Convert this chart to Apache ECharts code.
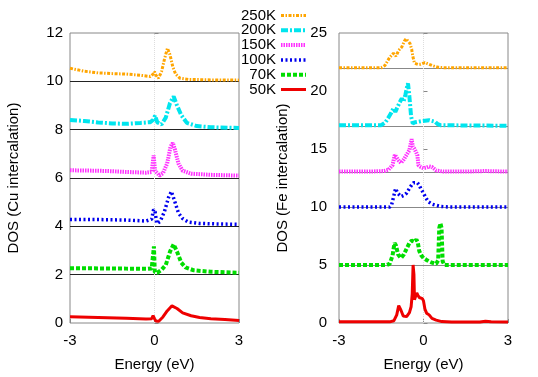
<!DOCTYPE html>
<html>
<head>
<meta charset="utf-8">
<script src="https://cdn.jsdelivr.net/npm/echarts@6/dist/echarts.min.js"></script>
<style>
  body { margin: 0; background: #fff; }
  #chart { width: 538px; height: 377px; }
</style>
</head>
<body>
<div id="chart"></div>
<script>
// legend labels, top to bottom
const temps = ["250K", "200K", "150K", "100K", "70K", "50K"];

// Cu intercalation: [energy eV, DOS + offset]
const cu50 = [[-3,0.26],[-2,0.23],[-1,0.2],[-0.3,0.17],[-0.1,0.18],[-0.05,0.3],[0,0.18],[0.05,0.08],[0.15,0.07],[0.3,0.25],[0.45,0.5],[0.62,0.71],[0.8,0.6],[1,0.42],[1.3,0.3],[1.6,0.23],[2,0.18],[2.5,0.14],[3,0.1]];
const cu70 = [[-3,2.27],[-2,2.26],[-1,2.25],[-0.3,2.24],[-0.1,2.26],[-0.03,2.3],[-0.02,3.17],[0,3.17],[0.01,2.1],[0.1,2.08],[0.25,2.2],[0.4,2.4],[0.55,2.95],[0.68,3.26],[0.8,2.95],[0.95,2.5],[1.1,2.3],[1.4,2.18],[2,2.12],[3,2.08]];
const cu100 = [[-3,4.28],[-2,4.28],[-1,4.26],[-0.3,4.22],[-0.1,4.3],[-0.03,4.7],[0.02,4.6],[0.08,4.12],[0.2,4.2],[0.35,4.6],[0.5,5.2],[0.6,5.44],[0.7,5.1],[0.85,4.55],[1,4.32],[1.2,4.18],[1.6,4.12],[2.2,4.1],[3,4.08]];
const cu150 = [[-3,6.32],[-2,6.3],[-1.5,6.28],[-1,6.25],[-0.3,6.22],[-0.1,6.25],[-0.03,6.93],[0,6.93],[0.02,6.3],[0.18,6.1],[0.3,6.2],[0.45,6.6],[0.57,7.3],[0.65,7.45],[0.72,7.2],[0.85,6.6],[1,6.3],[1.3,6.18],[2,6.13],[3,6.1]];
const cu200 = [[-3,8.4],[-2.5,8.36],[-2,8.3],[-1.5,8.26],[-1,8.24],[-0.5,8.28],[-0.15,8.31],[-0.05,8.4],[0.02,8.58],[0.1,8.3],[0.25,8.22],[0.4,8.5],[0.55,9.1],[0.68,9.37],[0.8,9.0],[0.95,8.6],[1.15,8.28],[1.5,8.15],[2,8.1],[3,8.07]];
const cu250 = [[-3,10.54],[-2.5,10.42],[-2,10.35],[-1.5,10.32],[-1,10.3],[-0.5,10.25],[-0.15,10.2],[-0.05,10.3],[0,10.4],[0.05,10.25],[0.14,10.13],[0.25,10.4],[0.35,10.9],[0.46,11.37],[0.55,11.1],[0.65,10.6],[0.75,10.3],[0.9,10.13],[1.2,10.08],[2,10.06],[3,10.05]];
const cuBase = [10, 8, 6, 4, 2, 0];

// Fe intercalation
const fe50 = [[-3,0.1],[-2,0.1],[-1.2,0.1],[-1.05,0.2],[-0.95,0.7],[-0.88,1.5],[-0.85,1.65],[-0.8,1.1],[-0.72,0.6],[-0.6,0.55],[-0.5,0.9],[-0.44,1.4],[-0.4,2.5],[-0.37,5.0],[-0.34,4.2],[-0.32,2.0],[-0.28,2.3],[-0.24,2.6],[-0.2,2.4],[-0.15,2.2],[-0.1,2.3],[-0.04,2.1],[0,1.9],[0.05,1.2],[0.11,0.85],[0.2,0.7],[0.3,0.4],[0.45,0.25],[0.65,0.12],[1,0.08],[2,0.08],[2.2,0.15],[2.4,0.1],[3,0.08]];
const fe70 = [[-3,5.0],[-1.3,5.0],[-1.2,5.1],[-1.1,5.8],[-1.03,6.9],[-0.98,6.7],[-0.9,5.9],[-0.8,5.6],[-0.7,5.9],[-0.6,6.4],[-0.5,6.9],[-0.42,7.1],[-0.32,7.0],[-0.25,7.2],[-0.2,6.9],[-0.15,6.2],[-0.09,5.86],[0,5.6],[0.11,5.43],[0.2,5.3],[0.3,5.2],[0.45,5.1],[0.52,5.4],[0.56,8.2],[0.6,8.6],[0.64,8.2],[0.68,5.3],[0.75,5.0],[3,5.0]];
const fe100 = [[-3,10],[-1.2,10],[-1.13,10.2],[-1.05,11.0],[-0.99,11.6],[-0.92,11.2],[-0.8,10.9],[-0.7,11.0],[-0.6,11.2],[-0.5,11.6],[-0.42,11.9],[-0.35,12.1],[-0.3,12.27],[-0.22,12.1],[-0.15,11.9],[-0.1,11.6],[0,11.2],[0.08,10.8],[0.17,10.46],[0.3,10.25],[0.41,10.17],[0.6,10.05],[0.9,10.0],[3,10.0]];
const fe150 = [[-3,13.05],[-2,13.05],[-1.4,13.1],[-1.25,13.2],[-1.1,13.6],[-1.02,14.5],[-0.95,14.6],[-0.88,14.0],[-0.8,13.8],[-0.7,14.1],[-0.6,14.5],[-0.5,14.9],[-0.45,15.5],[-0.42,15.85],[-0.38,15.2],[-0.32,15.0],[-0.26,14.9],[-0.22,14.5],[-0.18,13.6],[-0.1,13.45],[0,13.35],[0.1,13.4],[0.2,13.5],[0.3,13.45],[0.45,13.15],[0.7,13.05],[1.5,13.05],[2.2,13.1],[3,13.05]];
const fe200 = [[-3,17.05],[-1.5,17.05],[-1.35,17.3],[-1.26,17.65],[-1.15,18.1],[-1.07,18.5],[-1.0,18.2],[-0.95,18.3],[-0.85,19.0],[-0.77,19.37],[-0.71,19.08],[-0.64,19.7],[-0.58,20.4],[-0.55,20.66],[-0.5,19.5],[-0.44,17.8],[-0.38,17.2],[-0.3,17.3],[-0.06,17.41],[0.2,17.48],[0.41,17.35],[0.5,17.15],[0.6,17.05],[3,17.0]];
const fe250 = [[-3,22.0],[-1.5,22.0],[-1.37,22.2],[-1.2,22.9],[-1.07,23.25],[-0.98,23.0],[-0.88,23.5],[-0.77,23.8],[-0.68,24.3],[-0.62,24.5],[-0.55,24.3],[-0.48,24.1],[-0.42,23.6],[-0.38,23.0],[-0.32,22.4],[-0.2,22.3],[-0.1,22.3],[0.05,22.45],[0.15,22.35],[0.3,22.2],[0.5,22.05],[0.8,22.0],[3,22.0]];
const feBase = [22, 17, 13, 10, 5, 0];

const cuData = [cu250, cu200, cu150, cu100, cu70, cu50];
const feData = [fe250, fe200, fe150, fe100, fe70, fe50];

// line styles per temperature, same order as temps
const styles = [
  { color: "#ffa500", type: [3, 1.5, 1.5, 1.5], width: 3 },
  { color: "#00e5ee", type: [7, 2, 2, 2], width: 4 },
  { color: "#ff33ff", type: [1.5, 1], width: 4 },
  { color: "#0000ee", type: [2, 2.5], width: 3.5 },
  { color: "#00dd00", type: [4, 2], width: 4 },
  { color: "#ee0000", type: "solid", width: 3 },
];

function makeSeries(data, base, gridIdx, baseColor) {
  return data.map((d, i) => {
    const mark = [];
    if (base[i] > 0) mark.push({ yAxis: base[i], lineStyle: { color: baseColor, type: "solid", width: 1 } });
    if (i === data.length - 1) mark.push({ xAxis: 0, lineStyle: { color: "#dddddd", type: "dotted", width: 1 } });
    return {
      name: temps[i],
      type: "line",
      xAxisIndex: gridIdx,
      yAxisIndex: gridIdx,
      data: d,
      symbol: "none",
      showSymbol: false,
      lineStyle: styles[i],
      itemStyle: { color: styles[i].color },
      z: 3,
      markLine: {
        silent: true,
        symbol: "none",
        label: { show: false },
        z: 1,
        data: mark,
      },
    };
  });
}

const tickStyle = { inside: true, length: 4, lineStyle: { color: "#888" } };
const fs = 15;

const chart = echarts.init(document.getElementById("chart"), null, { renderer: "canvas" });
chart.setOption({
  animation: false,
  textStyle: { fontFamily: "Liberation Sans, Arial, sans-serif" },
  legend: {
    data: temps,
    orient: "vertical",
    right: 230,
    top: 8,
    padding: 0,
    align: "right",
    itemWidth: 25,
    itemHeight: 10,
    itemGap: -0.2,
    selectedMode: false,
    itemStyle: { opacity: 0 },
    lineStyle: { width: "inherit" },
    textStyle: { fontSize: fs, color: "#000", lineHeight: 14 },
  },
  grid: [
    { left: 70, top: 33, width: 169, height: 291, show: true, borderColor: "#888", borderWidth: 1 },
    { left: 339, top: 33, width: 169, height: 290, show: true, borderColor: "#888", borderWidth: 1 },
  ],
  xAxis: [0, 1].map((g) => ({
    gridIndex: g,
    type: "value",
    min: -3,
    max: 3,
    interval: 3,
    axisLine: { show: false },
    axisTick: tickStyle,
    splitLine: { show: false },
    axisLabel: { fontSize: fs, color: "#000", margin: 10 },
    name: "Energy (eV)",
    nameLocation: "middle",
    nameGap: 34,
    nameTextStyle: { fontSize: fs, color: "#000" },
  })),
  yAxis: [
    {
      gridIndex: 0,
      type: "value",
      min: 0,
      max: 12,
      interval: 2,
      axisLine: { show: false },
      axisTick: tickStyle,
      splitLine: { show: false },
      axisLabel: { fontSize: fs, color: "#000", margin: 7 },
      name: "DOS (Cu intercalation)",
      nameLocation: "middle",
      nameGap: 49,
      nameTextStyle: { fontSize: fs, color: "#000" },
    },
    {
      gridIndex: 1,
      type: "value",
      min: 0,
      max: 25,
      interval: 5,
      axisLine: { show: false },
      axisTick: tickStyle,
      splitLine: { show: false },
      axisLabel: { fontSize: fs, color: "#000", margin: 12 },
      name: "DOS (Fe intercalation)",
      nameLocation: "middle",
      nameGap: 49,
      nameTextStyle: { fontSize: fs, color: "#000" },
    },
  ],
  series: [
    ...makeSeries(cuData, cuBase, 0, "#222"),
    ...makeSeries(feData, feBase, 1, "#888"),
  ],
});
</script>
</body>
</html>
